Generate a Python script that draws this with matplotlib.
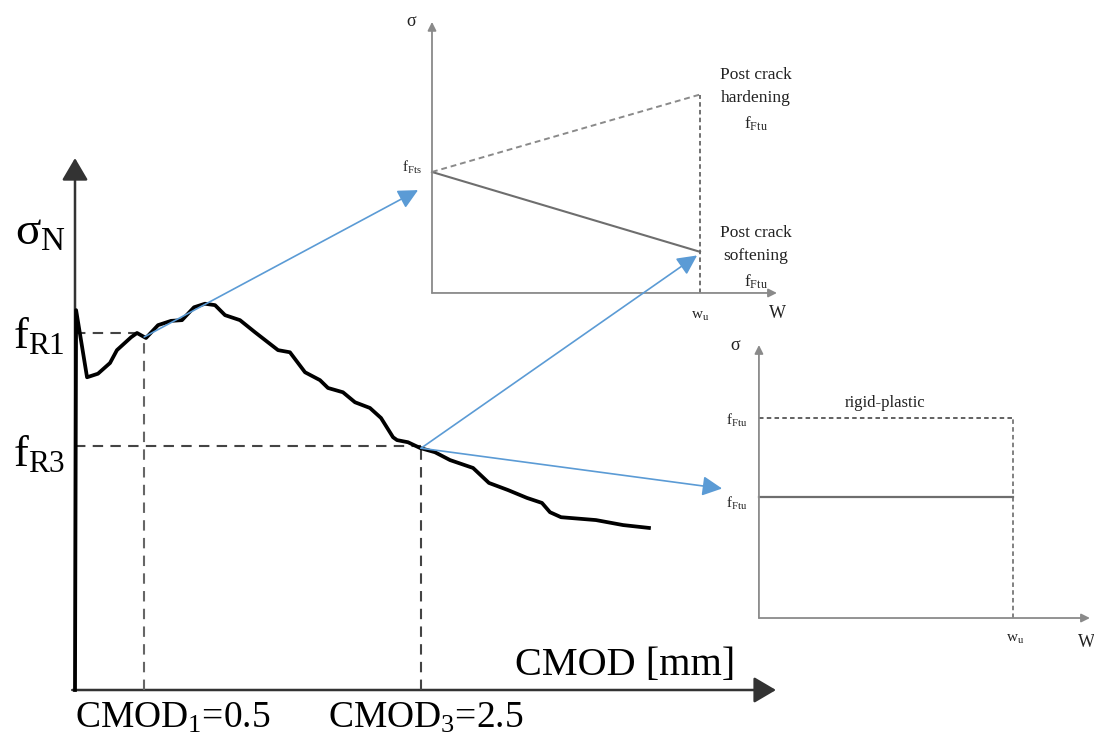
import numpy as np
import matplotlib
matplotlib.use('Agg')
import matplotlib.pyplot as plt
from matplotlib.patches import ConnectionPatch

plt.rcParams['font.family'] = ['Liberation Serif', 'DejaVu Serif']
plt.rcParams['mathtext.default'] = 'regular'

# ---------------- data ----------------
cmod = [0.0, 0.008, 0.087, 0.166, 0.253, 0.303, 0.405, 0.448, 0.513, 0.600,
        0.694, 0.773, 0.860, 0.939, 1.012, 1.084, 1.192, 1.301, 1.467, 1.553,
        1.662, 1.770, 1.828, 1.936, 2.023, 2.131, 2.211, 2.298, 2.327, 2.406,
        2.493, 2.601, 2.710, 2.876, 2.991, 3.129, 3.266, 3.374, 3.432, 3.512,
        3.764, 3.960, 4.147]
sigma = [0.0, 5.32, 4.38, 4.43, 4.58, 4.76, 4.94, 5.00, 4.93, 5.11,
         5.17, 5.18, 5.36, 5.41, 5.39, 5.25, 5.18, 5.01, 4.76, 4.73,
         4.45, 4.34, 4.23, 4.17, 4.03, 3.95, 3.81, 3.54, 3.50, 3.47,
         3.39, 3.33, 3.22, 3.11, 2.90, 2.80, 2.69, 2.62, 2.49, 2.42,
         2.38, 2.31, 2.27]
CMOD1, CMOD3 = 0.5, 2.5
fR1, fR3 = 5.0, 3.42
cmod_labels = ['CMOD$_1$=0.5', 'CMOD$_3$=2.5']

# inset models (normalised)
w_u = 1.0
f_Fts = 1.0
f_Ftu_hard = 1.64
f_Ftu_soft = 0.34
rp_upper = 1.65
rp_lower = 1.0

# ---------------- layout ----------------
W, H = 1094, 740
fig = plt.figure(figsize=(W / 100, H / 100), dpi=100)


def box(x0, y0, x1, y1):
    return [x0 / W, 1 - y1 / H, (x1 - x0) / W, (y1 - y0) / H]


ax = fig.add_axes([0, 0, 1, 1])
ax.set_xlim(-0.5419, 7.3627)
ax.set_ylim(-0.7003, 9.6639)
ax.axis('off')

axis_col = '#333333'
# main axes arrows
ax.annotate('', xy=(0, 7.45), xytext=(0, 0), zorder=1,
            arrowprops=dict(arrowstyle='-|>,head_length=0.68,head_width=0.4',
                            mutation_scale=20, lw=1.8, color=axis_col,
                            shrinkA=0, shrinkB=0))
ax.annotate('', xy=(5.065, 0), xytext=(-0.02, 0), zorder=1,
            arrowprops=dict(arrowstyle='-|>,head_length=0.68,head_width=0.4',
                            mutation_scale=20, lw=1.8, color=axis_col,
                            shrinkA=0, shrinkB=0))

dash_kw = dict(color='#444444', lw=1.5, dashes=(5, 3.5))
s1 = np.interp(CMOD1, cmod, sigma)
s3 = np.interp(CMOD3, cmod, sigma)
ax.plot([0, CMOD1], [fR1, fR1], **dash_kw)
ax.plot([0, CMOD3], [fR3, fR3], **dash_kw)
ax.plot([CMOD1, CMOD1], [0, s1], color='#666666', lw=1.5, dashes=(5, 3.5))
ax.plot([CMOD3, CMOD3], [0, s3], **dash_kw)

ax.plot(cmod, sigma, color='black', lw=2.7, solid_joinstyle='round', zorder=3)

ax.text(-0.43, 6.4, r'$\sigma_N$', fontsize=34, ha='left', va='center')
ax.text(-0.45, fR1 - 0.05, r'$f_{R1}$', fontsize=32, ha='left', va='center')
ax.text(-0.45, fR3 - 0.12, r'$f_{R3}$', fontsize=32, ha='left', va='center')
ax.text(3.18, 0.35, 'CMOD [mm]', fontsize=29, ha='left', va='center')
ax.text(0.0, -0.40, cmod_labels[0], fontsize=27, ha='left', va='center')
ax.text(1.83, -0.40, cmod_labels[1], fontsize=27, ha='left', va='center')

# ---------------- inset 1: hardening / softening ----------------
ins_col = '#8a8a8a'
ax1 = fig.add_axes(box(380, 0, 800, 330))
ax1.set_xlim(-0.194, 1.373)
ax1.set_ylim(-0.306, 2.421)
ax1.axis('off')
ax1.patch.set_visible(False)

ah = dict(arrowstyle='-|>,head_length=0.5,head_width=0.25', mutation_scale=10,
          lw=1.3, color=ins_col, shrinkA=0, shrinkB=0)
ax1.annotate('', xy=(0, 2.24), xytext=(0, 0), arrowprops=ah)
ax1.annotate('', xy=(1.287, 0), xytext=(0, 0), arrowprops=ah)
ax1.plot([0, w_u], [f_Fts, f_Ftu_soft], color='#6e6e6e', lw=1.5)
ax1.plot([0, w_u], [f_Fts, f_Ftu_hard], color=ins_col, lw=1.4, dashes=(3, 2))
ax1.plot([w_u, w_u], [0, f_Ftu_hard], color='#666666', lw=1.3, dashes=(2.5, 1.8))

tk = dict(color='#222222', clip_on=False)
ax1.text(-0.075, 2.24, r'$\sigma$', fontsize=13, ha='center', va='center', **tk)
ax1.text(-0.075, f_Fts + 0.04, r'$f_{Fts}$', fontsize=11, ha='center', va='center', **tk)
ax1.text(w_u, -0.19, r'$w_u$', fontsize=11, ha='center', va='center', **tk)
ax1.text(1.29, -0.17, 'W', fontsize=13, ha='center', va='center', **tk)
ax1.text(1.209, 1.87, 'Post crack\nhardening\n$f_{Ftu}$', fontsize=12.5,
         ha='center', va='top', linespacing=1.6, **tk)
ax1.text(1.209, 0.56, 'Post crack\nsoftening\n$f_{Ftu}$', fontsize=12.5,
         ha='center', va='top', linespacing=1.6, **tk)

# ---------------- inset 2: rigid-plastic ----------------
ax2 = fig.add_axes(box(700, 330, 1094, 660))
ax2.set_xlim(-0.232, 1.319)
ax2.set_ylim(-0.347, 2.380)
ax2.axis('off')
ax2.patch.set_visible(False)
ax2.annotate('', xy=(0, 2.256), xytext=(0, 0), arrowprops=ah)
ax2.annotate('', xy=(1.303, 0), xytext=(0, 0), arrowprops=ah)
ax2.plot([0, w_u], [rp_upper, rp_upper], color='#555555', lw=1.3, dashes=(2.5, 1.8))
ax2.plot([w_u, w_u], [0, rp_upper], color='#777777', lw=1.3, dashes=(2.5, 1.8))
ax2.plot([0, w_u], [rp_lower, rp_lower], color='#6e6e6e', lw=1.6)
ax2.text(-0.09, 2.256, r'$\sigma$', fontsize=13, ha='center', va='center', **tk)
ax2.text(-0.087, rp_upper - 0.02, r'$f_{Ftu}$', fontsize=11, ha='center', va='center', **tk)
ax2.text(-0.087, rp_lower - 0.05, r'$f_{Ftu}$', fontsize=11, ha='center', va='center', **tk)
ax2.text(0.496, 1.78, 'rigid-plastic', fontsize=12, ha='center', va='center', **tk)
ax2.text(w_u + 0.008, -0.18, r'$w_u$', fontsize=11, ha='center', va='center', **tk)
ax2.text(1.291, -0.2, 'W', fontsize=13, ha='center', va='center', **tk)

# ---------------- connecting blue arrows ----------------
blue = '#5b9bd5'
arr = dict(arrowstyle='-|>,head_length=0.6,head_width=0.3', mutation_scale=20,
           color=blue, lw=1.2, shrinkA=0, shrinkB=0)
for (xa, ya), axB, (xb, yb) in [((CMOD1, s1), ax1, (-0.052, 0.85)),
                                ((CMOD3, s3), ax1, (0.989, 0.31)),
                                ((CMOD3, s3), ax2, (-0.145, 1.07))]:
    cp = ConnectionPatch(xyA=(xa, ya), coordsA=ax.transData,
                         xyB=(xb, yb), coordsB=axB.transData, **arr)
    fig.add_artist(cp)

fig.savefig('out.png', dpi=100)
